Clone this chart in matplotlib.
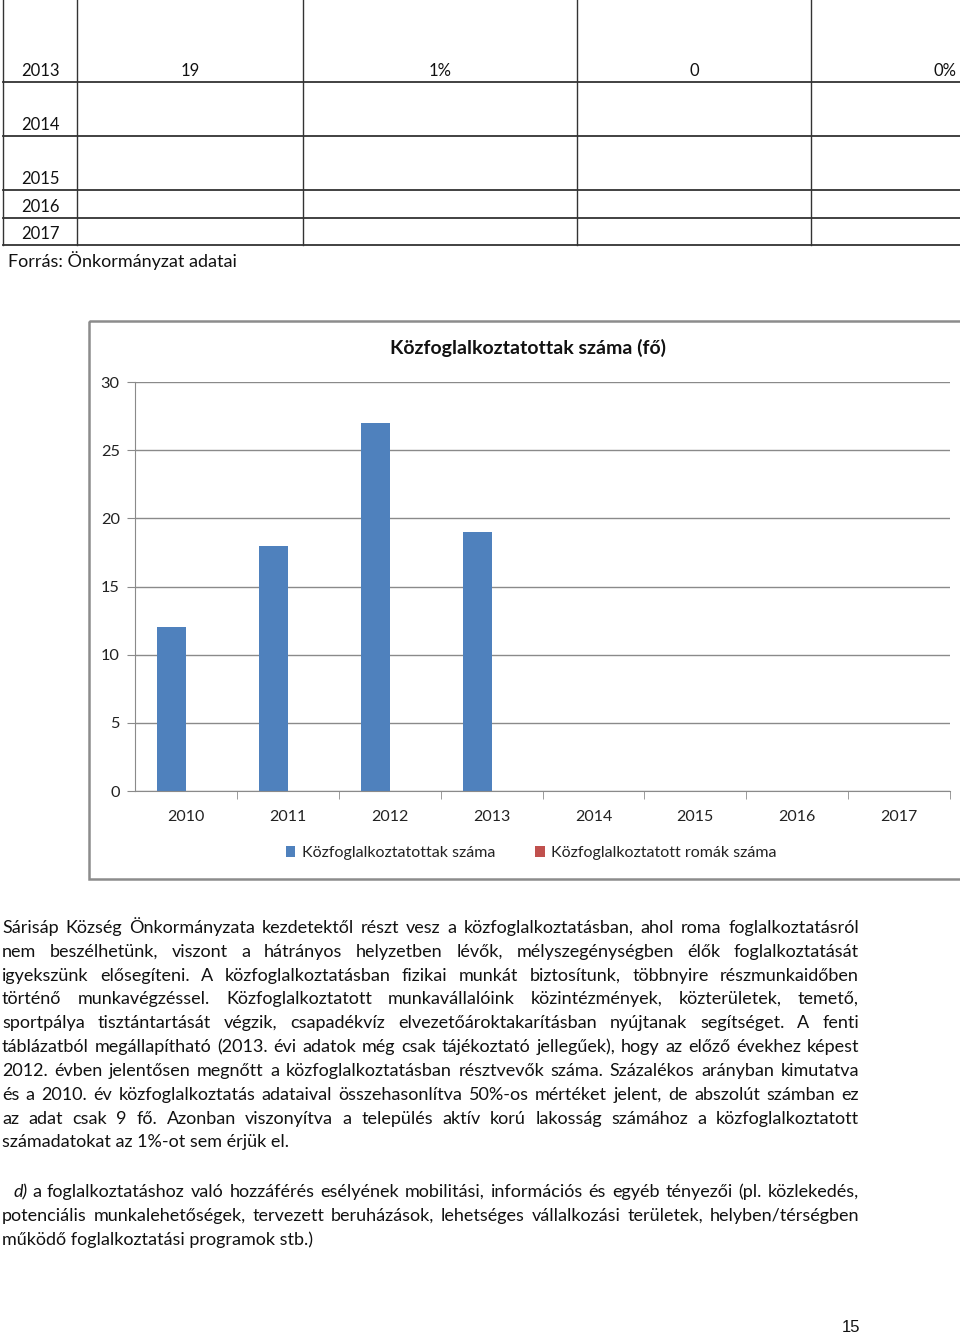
import matplotlib.pyplot as plt
from matplotlib.patches import Rectangle

plt.rcParams['font.family'] = ['Lato', 'DejaVu Sans']

# table rows above the chart
table_years = ["2013", "2014", "2015", "2016", "2017"]
table_row_2013 = ["19", "1%", "0", "0%"]

# chart data
years = ["2010", "2011", "2012", "2013", "2014", "2015", "2016", "2017"]
kozfog = [12, 18, 27, 19, 0, 0, 0, 0]
romak = [0, 0, 0, 0, 0, 0, 0, 0]
series_names = ["Közfoglalkoztatottak száma", "Közfoglalkoztatott romák száma"]
chart_title = "Közfoglalkoztatottak száma (fő)"

para1 = [
    "Sárisáp Község Önkormányzata kezdetektől részt vesz a közfoglalkoztatásban, ahol roma foglalkoztatásról",
    "nem beszélhetünk, viszont a hátrányos helyzetben lévők, mélyszegénységben élők foglalkoztatását",
    "igyekszünk elősegíteni. A közfoglalkoztatásban fizikai munkát biztosítunk, többnyire részmunkaidőben",
    "történő munkavégzéssel. Közfoglalkoztatott munkavállalóink közintézmények, közterületek, temető,",
    "sportpálya tisztántartását végzik, csapadékvíz elvezetőároktakarításban nyújtanak segítséget. A fenti",
    "táblázatból megállapítható (2013. évi adatok még csak tájékoztató jellegűek), hogy az előző évekhez képest",
    "2012. évben jelentősen megnőtt a közfoglalkoztatásban résztvevők száma. Százalékos arányban kimutatva",
    "és a 2010. év közfoglalkoztatás adataival összehasonlítva 50%-os mértéket jelent, de abszolút számban ez",
    "az adat csak 9 fő. Azonban viszonyítva a település aktív korú lakosság számához a közfoglalkoztatott",
    "számadatokat az 1%-ot sem érjük el.",
]
para2 = [
    "a foglalkoztatáshoz való hozzáférés esélyének mobilitási, információs és egyéb tényezői (pl. közlekedés,",
    "potenciális munkalehetőségek, tervezett beruházások, lehetséges vállalkozási területek, helyben/térségben",
    "működő foglalkoztatási programok stb.)",
]

W, H = 960, 1333
fig = plt.figure(figsize=(W / 100, H / 100), dpi=100)
bg = fig.add_axes([0, 0, 1, 1])
bg.set_xlim(0, W)
bg.set_ylim(H, 0)
bg.axis('off')

FS = 13.0
TFS = 12.0
TXT = '#111111'

# --- table ---
for y in [82, 136, 190, 218, 245]:
    bg.plot([3, W], [y, y], color='#333333', lw=1.3)
for x in [3, 77, 303, 577, 811]:
    bg.plot([x, x], [0, 245], color='#333333', lw=1.0)
row_y = [71, 125, 179, 207, 234]
for yr, y in zip(table_years, row_y):
    bg.text(21, y, yr, fontsize=TFS, color=TXT, va='center')
cell_x = [190, 440, 694, 957]
cell_ha = ['center', 'center', 'center', 'right']
for v, x, ha in zip(table_row_2013, cell_x, cell_ha):
    bg.text(x, 71, v, fontsize=TFS, color=TXT, va='center', ha=ha)
bg.text(8, 261, "Forrás: Önkormányzat adatai", fontsize=13.0, color=TXT, va='center')

# --- chart frame ---
bg.add_patch(Rectangle((89, 321), 880, 558, fill=False, ec='#8c8c8c', lw=1.8))

ax = fig.add_axes([135 / W, 1 - 791 / H, 815 / W, 409 / H])
xs = list(range(len(years)))
bw = 0.285
ax.bar([x - bw / 2 for x in xs], kozfog, bw, color='#4F81BD', label=series_names[0])
ax.bar([x + bw / 2 for x in xs], romak, bw, color='#C0504D', label=series_names[1])
ax.set_xlim(-0.5, len(years) - 0.5)
ax.set_ylim(0, 30)
ax.set_yticks(range(0, 31, 5))
ax.yaxis.grid(True, color='#8a8a8a', lw=1.0)
ax.set_axisbelow(True)
ax.set_xticks(xs)
ax.set_xticklabels(years)
ax.set_xticks([x + 0.5 for x in xs], minor=True)
ax.tick_params(axis='x', which='major', length=0, pad=14, labelsize=11.5, labelcolor='#222222')
ax.tick_params(axis='x', which='minor', length=6, color='#8a8a8a')
ax.tick_params(axis='y', length=6, color='#8a8a8a', pad=5, labelsize=11.8, labelcolor='#222222')
for s in ['top', 'right']:
    ax.spines[s].set_visible(False)
ax.spines['left'].set_color('#8a8a8a')
ax.spines['bottom'].set_color('#8a8a8a')
ax.text(0.482, 1.083, chart_title, transform=ax.transAxes, ha='center', va='center',
        fontsize=14, fontweight='bold', color='#111111')
ax.legend(loc='center', bbox_to_anchor=(0.486, -0.152), ncol=2, frameon=False,
          handlelength=0.6, handleheight=0.6, handletextpad=0.4, columnspacing=2.5,
          fontsize=11.5, labelcolor='#222222')

# --- justified body text ---
renderer = fig.canvas.get_renderer()


def word_width(w, style='normal'):
    t = bg.text(0, 0, w, fontsize=FS, style=style)
    bb = t.get_window_extent(renderer)
    t.remove()
    return bb.width


def draw_line(line, x0, x1, y, justify):
    if not justify:
        bg.text(x0, y, line, fontsize=FS, color=TXT, va='baseline')
        return
    words = line.split(' ')
    widths = [word_width(w) for w in words]
    gap = (x1 - x0 - sum(widths)) / (len(words) - 1)
    x = x0
    for w, wd in zip(words, widths):
        bg.text(x, y, w, fontsize=FS, color=TXT, va='baseline')
        x += wd + gap


base1 = [933, 957, 981, 1004, 1028, 1052, 1076, 1100, 1124, 1147]
for i, (line, y) in enumerate(zip(para1, base1)):
    draw_line(line, 2, 859, y, i < len(para1) - 1)

bg.text(14, 1197, "d)", fontsize=FS, style='italic', color=TXT, va='baseline')
dx = 14 + word_width("d)", 'italic') + 4
draw_line(para2[0], dx, 859, 1197, True)
draw_line(para2[1], 2, 859, 1221, True)
draw_line(para2[2], 2, 859, 1245, False)

bg.text(860, 1333 - 1, "15", fontsize=12, color=TXT, ha='right', va='baseline',
        family=['Liberation Sans', 'DejaVu Sans'])

fig.savefig('out.png', dpi=100)
